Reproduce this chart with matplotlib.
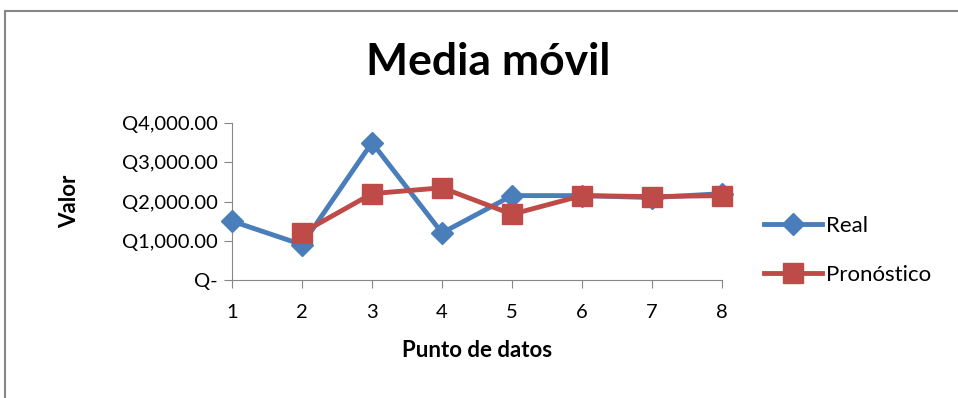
import matplotlib
matplotlib.use("Agg")
import matplotlib.pyplot as plt
from matplotlib.patches import Rectangle
from matplotlib.ticker import FuncFormatter

# data
puntos = [1, 2, 3, 4, 5, 6, 7, 8]
real = [1500, 900, 3500, 1200, 2150, 2150, 2100, 2200]
pron_x = [2, 3, 4, 5, 6, 7, 8]
pronostico = [1200, 2200, 2350, 1675, 2150, 2125, 2150]
y_ticks = [0, 1000, 2000, 3000, 4000]

BLUE = "#4A7EBB"
RED = "#BE4B48"
GREY = "#878787"

plt.rcParams["font.family"] = ["Lato", "DejaVu Sans"]

fig = plt.figure(figsize=(9.58, 3.98), dpi=100)
fig.patches.append(Rectangle((5 / 958, -0.1), 1.2, 1 - 11 / 398 + 0.1,
                             transform=fig.transFigure, fill=False,
                             edgecolor=GREY, linewidth=1.5))

ax = fig.add_axes([232 / 958, 1 - 280 / 398, 490 / 958, 157 / 398])
ax.plot(puntos, real, color=BLUE, lw=3.5, marker="D", ms=11,
        label="Real", clip_on=False, zorder=3)
ax.plot(pron_x, pronostico, color=RED, lw=3.5, marker="s", ms=14,
        label="Pronóstico", clip_on=False, zorder=4)

ax.set_xlim(1, 8)
ax.set_ylim(0, 4000)
ax.set_xticks(puntos)
ax.set_yticks(y_ticks)


def quetzal(v, pos):
    return "Q-" if v == 0 else f"Q{v:,.2f}"


ax.yaxis.set_major_formatter(FuncFormatter(quetzal))
for s in ["top", "right"]:
    ax.spines[s].set_visible(False)
for s in ["left", "bottom"]:
    ax.spines[s].set_color(GREY)
ax.tick_params(axis="both", direction="out", length=6, color=GREY,
               labelsize=14.5, pad=4)
ax.tick_params(axis="x", pad=11)

ax.set_xlabel("Punto de datos", fontsize=16, fontweight="bold", labelpad=14)
ax.set_ylabel("Valor", fontsize=16, fontweight="bold", labelpad=30)
fig.text(488 / 958, 1 - 62 / 398, "Media móvil", fontsize=32,
         fontweight="bold", ha="center", va="center")

ax.legend(loc="center left", bbox_to_anchor=(1.045, 0.19), frameon=False,
          fontsize=16, handlelength=2.6, labelspacing=1.3, handletextpad=0.2,
          borderaxespad=0.5)

fig.savefig("out.png", dpi=100)
